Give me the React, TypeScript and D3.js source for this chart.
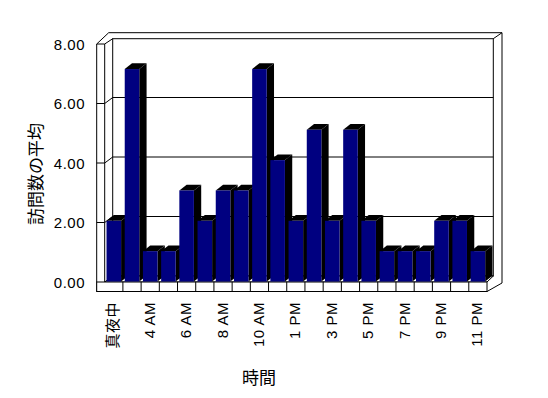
import * as d3 from 'd3'

// 時間帯ごとの訪問数の平均
const hours = [
  '真夜中', '2 AM', '4 AM', '5 AM', '6 AM', '7 AM', '8 AM', '9 AM', '10 AM', '11 AM',
  '1 PM', '2 PM', '3 PM', '4 PM', '5 PM', '6 PM', '7 PM', '8 PM', '9 PM', '10 PM', '11 PM',
]
const visits = [2, 7, 1, 1, 3, 2, 3, 3, 7, 4, 2, 5, 2, 5, 2, 1, 1, 1, 2, 2, 1]
const yTicks = [0, 2, 4, 6, 8]

const W = 548
const H = 398
const FONT = '"Liberation Sans", "Noto Sans CJK JP", sans-serif'

export default function App() {
  // frame geometry (front plane + depth offset)
  const left = 96.7
  const wallIn = 104.7
  const right = 487
  const floorTop = 282
  const floorBot = 291.5
  const depth = { x: 8, y: -6 }
  const backL = wallIn + depth.x
  const backR = 493.3
  const backTop = 38.7
  const outerR = 502
  const outerTop = 32.7

  const x = d3.scaleBand<string>()
    .domain(hours)
    .range([wallIn, right])
    .paddingInner(0.2)
    .paddingOuter(0.1)
  const step = x.step()
  const bandStart = (i: number) => wallIn + i * step

  // axis on the front plane, bars sit a little deeper
  const y = d3.scaleLinear().domain([0, 8]).range([floorTop, 44])
  const yBar = d3.scaleLinear().domain([0, 8]).range([281.5, backTop])

  const bd = { x: 7.3, y: -5.7 } // bar depth
  const line = { stroke: '#000', strokeWidth: 1, fill: 'none' }

  return (
    <div style={{ position: 'fixed', left: 0, top: 0, width: W, height: H, background: '#fff' }}>
      <svg width={W} height={H} style={{ display: 'block' }} fontFamily={FONT}>
        {/* outer body */}
        <path
          d={`M${left},${floorBot}L${left},44L108.7,${outerTop}L${outerR},${outerTop}L${outerR},283L${right},${floorBot}Z`}
          fill="#fff"
          stroke="#000"
        />
        {/* back wall face */}
        <rect x={backL} y={backTop} width={backR - backL} height={floorTop + depth.y - backTop} fill="#fff" stroke="#000" />
        {/* left wall */}
        <line x1={left} y1={44} x2={wallIn} y2={44} {...line} />
        <line x1={wallIn} y1={44} x2={backL} y2={backTop} {...line} />
        <line x1={wallIn} y1={44} x2={wallIn} y2={floorTop} {...line} />
        <line x1={backR} y1={backTop} x2={outerR} y2={outerTop} {...line} />

        {/* gridlines */}
        {yTicks.filter(t => t > 0 && t < 8).map(t => {
          const yf = y(t)
          return (
            <g key={t}>
              <line x1={left} y1={yf} x2={wallIn} y2={yf} {...line} />
              <line x1={wallIn} y1={yf} x2={backL} y2={yf + depth.y} {...line} />
              <line x1={backL} y1={yf + depth.y} x2={backR} y2={yf + depth.y} {...line} />
            </g>
          )
        })}

        {/* floor */}
        <path
          d={`M${wallIn},${floorTop}L${right},${floorTop}L${backR},${floorTop + depth.y}L${backL},${floorTop + depth.y}Z`}
          fill="#fff" stroke="#000"
        />
        <rect x={left} y={floorTop} width={right - left} height={floorBot - floorTop} fill="#fff" stroke="#000" />
        {hours.slice(1).map((h, i) => (
          <line key={h} x1={bandStart(i + 1)} y1={floorTop} x2={bandStart(i + 1)} y2={floorBot} {...line} />
        ))}

        {/* bars */}
        {hours.map((h, i) => {
          const x0 = x(h)!
          const w = x.bandwidth()
          const yt = yBar(visits[i])
          const yb = yBar(0)
          return (
            <g key={h}>
              <path
                d={`M${x0 + w},${yt}L${x0 + w + bd.x},${yt + bd.y}L${x0 + w + bd.x},${yb + bd.y}L${x0 + w},${yb}Z`}
                fill="#000"
              />
              <path
                d={`M${x0},${yt}L${x0 + bd.x},${yt + bd.y}L${x0 + w + bd.x},${yt + bd.y}L${x0 + w},${yt}Z`}
                fill="#000"
              />
              <rect x={x0} y={yt} width={w} height={yb - yt} fill="#000080" />
            </g>
          )
        })}

        {/* y labels */}
        {yTicks.map(t => (
          <text key={t} x={85} y={y(t)} textAnchor="end" dominantBaseline="central" fontSize={15} letterSpacing={0.5} fill="#000">
            {t.toFixed(2)}
          </text>
        ))}

        {/* x labels, every other category */}
        {hours.map((h, i) => i % 2 === 0 ? (
          <text
            key={h}
            transform={`translate(${x(h)! + x.bandwidth() / 2 - 1},302) rotate(-90)`}
            textAnchor="end"
            dominantBaseline="central"
            fontSize={15}
            letterSpacing={0.5}
            fill="#000"
          >
            {h}
          </text>
        ) : null)}

        {/* axis titles */}
        <text
          transform="translate(36,174) rotate(-90)"
          textAnchor="middle"
          dominantBaseline="central"
          fontSize={17}
          fill="#000"
        >
          訪問数の平均
        </text>
        <text x={259} y={378} textAnchor="middle" dominantBaseline="central" fontSize={17} fill="#000">
          時間
        </text>
      </svg>
    </div>
  )
}
